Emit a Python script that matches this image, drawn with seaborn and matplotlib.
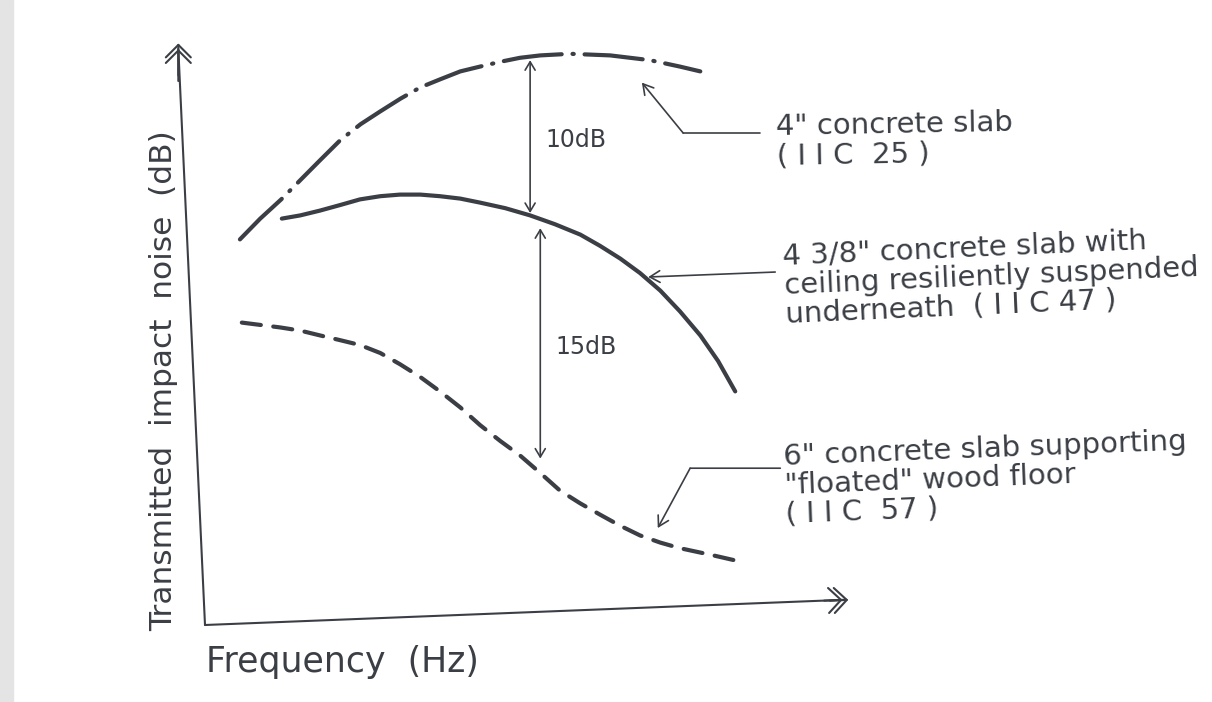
import matplotlib
matplotlib.use("Agg")
import matplotlib.pyplot as plt
from matplotlib.patches import Rectangle
import seaborn as sns

# curves (frequency in arbitrary units 0-100, noise in dB above the axis)
freq_slab4 = [5.5, 8.7, 12.0, 15.0, 18.0, 21.3, 24.5, 27.6, 30.8, 33.9, 37.0, 40.2, 43.3,
              46.5, 49.6, 52.8, 57.5, 63.8, 70.1, 74.8, 78.0]
noise_slab4 = [24.1, 25.4, 26.6, 27.8, 29.0, 30.3, 31.3, 32.1, 32.9, 33.6, 34.1, 34.6, 34.9,
               35.2, 35.45, 35.6, 35.7, 35.6, 35.3, 34.9, 34.6]

freq_ceiling = [12.1, 15.0, 18.1, 21.3, 24.4, 27.6, 30.7, 33.9, 37.0, 40.2, 43.3, 47.3,
                51.2, 55.1, 59.1, 62.2, 65.4, 68.5, 71.7, 74.8, 78.0, 80.8, 83.5]
noise_ceiling = [25.4, 25.6, 25.9, 26.25, 26.6, 26.8, 26.9, 26.9, 26.8, 26.65, 26.4, 26.05,
                 25.6, 25.05, 24.4, 23.7, 22.9, 22.0, 20.9, 19.6, 18.1, 16.5, 14.6]

freq_floated = [5.8, 8.8, 11.8, 15.0, 18.1, 21.3, 24.4, 27.6, 30.7, 33.9, 37.0, 40.2, 43.3,
                46.5, 49.6, 52.8, 55.9, 59.1, 62.2, 65.4, 68.5, 71.7, 74.8, 79.5, 85.0]
noise_floated = [18.9, 18.75, 18.6, 18.4, 18.1, 17.8, 17.5, 17.0, 16.3, 15.5, 14.6, 13.6, 12.5,
                 11.5, 10.6, 9.5, 8.4, 7.6, 6.9, 6.2, 5.6, 5.15, 4.8, 4.4, 3.9]

# level differences marked between the curves
gap_x = [51.2, 52.8]
gap_top = [35.3, 24.8]
gap_bottom = [25.75, 10.4]
gap_labels = ["10dB", "15dB"]

slab_labels = [
    '4" concrete slab\n( I I C  25 )',
    '4 3/8" concrete slab with\nceiling resiliently suspended\nunderneath  ( I I C 47 )',
    '6" concrete slab supporting\n"floated" wood floor\n( I I C  57 )',
]

INK = "#3b3f45"

sns.set_theme(style="white")
plt.rcParams["font.family"] = ["DejaVu Sans"]

fig = plt.figure(figsize=(12.12, 7.02), dpi=100)
fig.patch.set_facecolor("white")
fig.patches.append(Rectangle((0, 0), 0.011, 1, transform=fig.transFigure,
                             color="#e4e4e4", zorder=0))

# plot box placed where the hand-drawn axes sit
ax = fig.add_axes([205 / 1212, 77 / 702, 635 / 1212, 576 / 702])
ax.set_xlim(0, 100)
ax.set_ylim(0, 36)
ax.axis("off")

lw = 3.0
sns.lineplot(x=freq_slab4, y=noise_slab4, ax=ax, color=INK, lw=lw,
             linestyle=(0, (14, 2.6, 0.3, 2.6)), dash_capstyle="round", clip_on=False)
sns.lineplot(x=freq_ceiling, y=noise_ceiling, ax=ax, color=INK, lw=lw,
             solid_capstyle="round", clip_on=False)
sns.lineplot(x=freq_floated, y=noise_floated, ax=ax, color=INK, lw=lw,
             linestyle=(0, (4.6, 3.0)), dash_capstyle="round", clip_on=False)


def arrow(xy, xytext, style, lw=1.5):
    ax.annotate("", xy=xy, xytext=xytext, annotation_clip=False,
                arrowprops=dict(arrowstyle=style, color=INK, lw=lw,
                                shrinkA=0, shrinkB=0))


# hand-drawn axes with double chevron heads
arrow((-4.2, 36.0), (0, 0), "-")
arrow((101.0, 1.58), (0, 0), "-")
chevron = "->,head_length=0.75,head_width=0.75"
for off in (0, 0.35):
    arrow((-4.2, 36.0 + off), (-4.2, 34.0 + off), chevron)
for off in (0, 0.9):
    arrow((100.4 + off, 1.57), (97.5 + off, 1.52), chevron)

ax.text(-6.5, 15.3, "Transmitted  impact  noise  (dB)", rotation=90, ha="center",
        va="center", fontsize=22.5, color=INK)
ax.text(0.2, -2.3, "Frequency  (Hz)", ha="left", va="center", fontsize=25, color=INK)

# level difference arrows
for x, top, bot, lab in zip(gap_x, gap_top, gap_bottom, gap_labels):
    arrow((x, top), (x, bot), "<->,head_length=0.5,head_width=0.3", lw=1.2)
    ax.text(x + 2.4, (top + bot) / 2 - 0.2, lab, ha="left", va="center",
            fontsize=17, color=INK)

# leaders to the curve labels
head = "->,head_length=0.6,head_width=0.35"
# 4" slab
arrow((87.4, 30.75), (75.3, 30.75), "-", lw=1.2)
arrow((68.8, 33.9), (75.3, 30.75), head, lw=1.2)
# 4 3/8" slab
arrow((69.8, 21.75), (89.8, 22.06), head, lw=1.2)
# 6" slab
arrow((90.6, 9.8), (76.4, 9.8), "-", lw=1.2)
arrow((71.3, 6.06), (76.4, 9.8), head, lw=1.2)

txt_kw = dict(ha="left", va="top", fontsize=21, color=INK, linespacing=1.05,
              rotation_mode="anchor")
ax.text(89.9, 32.0, slab_labels[0], rotation=1.0, **txt_kw)
ax.text(90.9, 23.9, slab_labels[1], rotation=2.5, **txt_kw)
ax.text(91.0, 11.4, slab_labels[2], rotation=2.2, **txt_kw)

fig.savefig("out.png", dpi=100)
